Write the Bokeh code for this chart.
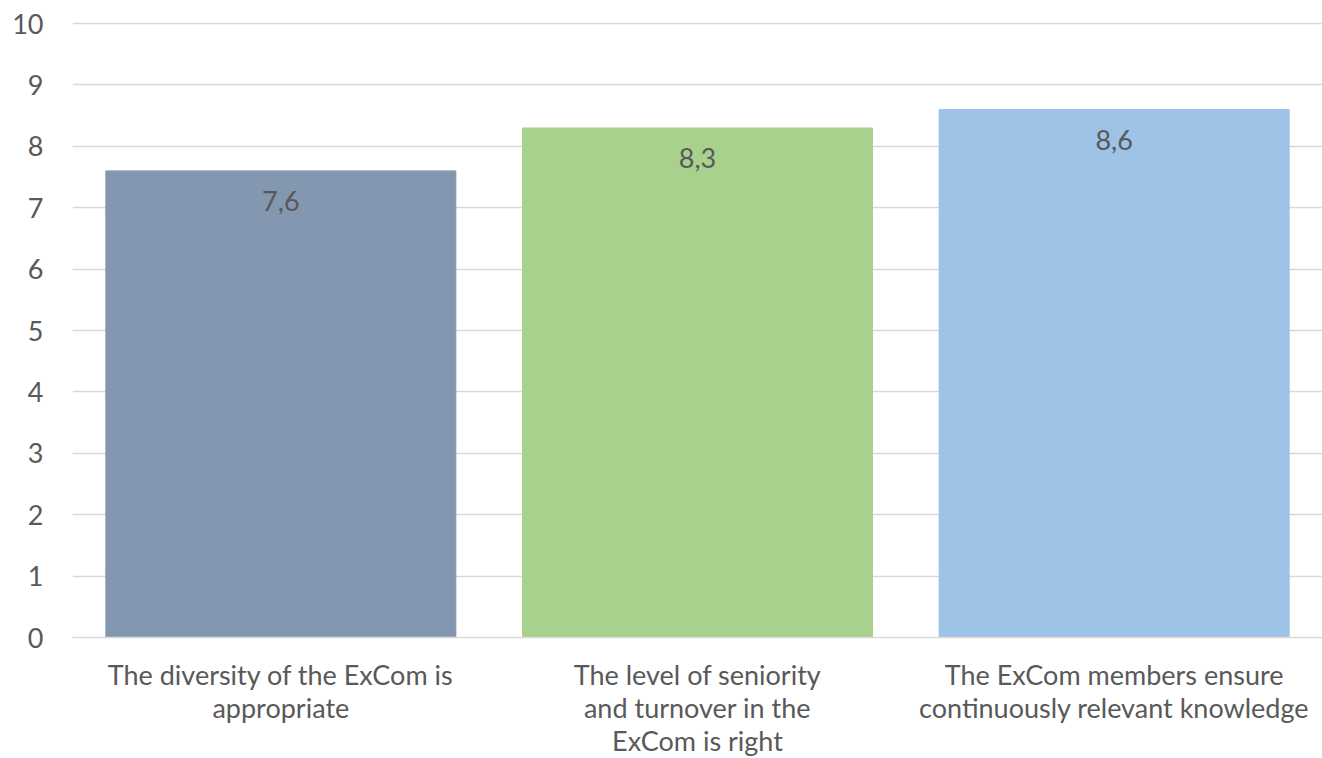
from bokeh.plotting import figure
from bokeh.models import ColumnDataSource, FactorRange, Range1d, SingleIntervalTicker
from bokeh.embed import file_html
from bokeh.resources import INLINE

# Survey statements and their average scores (0-10 scale)
categories = [
    "The diversity of the ExCom is\nappropriate",
    "The level of seniority\nand turnover in the\nExCom is right",
    "The ExCom members ensure\ncontinuously relevant knowledge",
]
scores = [7.6, 8.3, 8.6]
score_labels = ["7,6", "8,3", "8,6"]
bar_colors = ["#8497B0", "#A9D18E", "#9DC3E6"]

FONT = "Lato"
FONT_SIZE = "27px"
TEXT_COLOR = "#595959"
GRID_COLOR = "#D9D9D9"

source = ColumnDataSource(dict(
    cat=categories, score=scores, label=score_labels, color=bar_colors,
))

p = figure(
    x_range=FactorRange(*categories, range_padding=0),
    y_range=Range1d(0, 10.05),
    frame_width=1250, frame_height=617,
    output_backend="svg", toolbar_location=None,
    min_border_left=72, min_border_right=0,
    min_border_top=20, min_border_bottom=0,
)
p.outline_line_color = None
p.background_fill_color = "white"
p.border_fill_color = "white"

p.vbar(x="cat", top="score", width=0.84, color="color", source=source)

p.text(x="cat", y="score", text="label", source=source,
       text_align="center", text_baseline="top", y_offset=20,
       text_font={"value": FONT}, text_font_size=FONT_SIZE, text_color=TEXT_COLOR)

# grid
p.xgrid.grid_line_color = None
p.ygrid.grid_line_color = GRID_COLOR
p.ygrid.grid_line_width = 1.5

# y axis
p.yaxis.ticker = SingleIntervalTicker(interval=1)
p.yaxis.axis_line_color = None
p.yaxis.major_tick_line_color = None
p.yaxis.minor_tick_line_color = None
p.yaxis.major_label_text_font = FONT
p.yaxis.major_label_text_font_size = FONT_SIZE
p.yaxis.major_label_text_color = TEXT_COLOR
p.yaxis.major_label_standoff = 23

# x axis
p.xaxis.axis_line_color = GRID_COLOR
p.xaxis.axis_line_width = 1.5
p.xaxis.major_tick_line_color = None
p.xaxis.minor_tick_line_color = None
p.xaxis.major_label_text_font = FONT
p.xaxis.major_label_text_font_size = FONT_SIZE
p.xaxis.major_label_text_color = TEXT_COLOR
p.xaxis.major_label_text_line_height = 1.0
p.xaxis.major_label_standoff = 14
p.xaxis.major_label_orientation = "horizontal"

open("out.html", "w").write(file_html(p, INLINE))
